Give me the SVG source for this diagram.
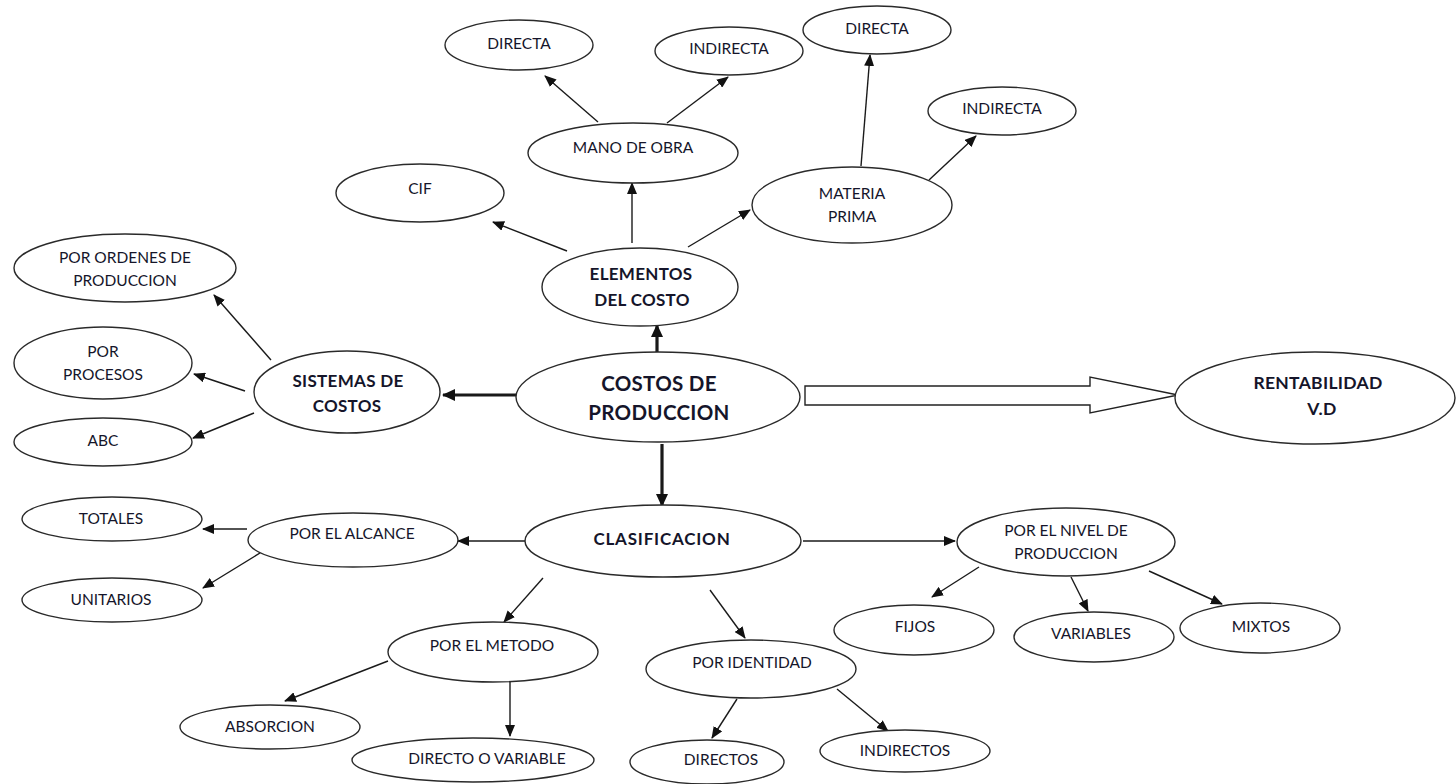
<svg xmlns="http://www.w3.org/2000/svg" width="1456" height="784" viewBox="0 0 1456 784">
  <style>
    .node ellipse { fill: #ffffff; stroke: #2a2a2a; stroke-width: 1.4; }
    text { font-family: Lato, "Open Sans", "Liberation Sans", sans-serif; font-size: 15.5px; fill: #15152a; text-anchor: middle; dominant-baseline: middle; }
    .node text { transform: translateY(1.5px); }
    .b { font-weight: bold; font-size: 17px; letter-spacing: 0.3px; }
    .big { font-size: 20.5px; font-weight: bold; letter-spacing: 0.3px; }
    .conn line { stroke: #1a1a1a; stroke-width: 1.4; marker-end: url(#arr); }
    .conn line.thick { stroke-width: 3.2; marker-end: url(#arrBig); }
  </style>
  <defs>
    <marker id="arr" markerUnits="userSpaceOnUse" markerWidth="12" markerHeight="10" refX="11" refY="5" orient="auto">
      <path d="M0,0 L12,5 L0,10 Z" fill="#111"/>
    </marker>
    <marker id="arrBig" markerUnits="userSpaceOnUse" markerWidth="13" markerHeight="12" refX="12" refY="6" orient="auto">
      <path d="M0,0 L13,6 L0,12 Z" fill="#111"/>
    </marker>
  </defs>

  <!-- connectors -->
  <g id="connectors" class="conn">
    <line x1="598" y1="122" x2="545" y2="76"/>
    <line x1="667" y1="123" x2="728" y2="77"/>
    <line x1="632" y1="243" x2="632" y2="183"/>
    <line x1="567" y1="251" x2="493" y2="222"/>
    <line x1="688" y1="247" x2="750" y2="210"/>
    <line x1="861" y1="166" x2="870" y2="55"/>
    <line x1="929" y1="180" x2="976" y2="136"/>
    <line class="thick" x1="657" y1="352" x2="657" y2="325"/>
    <line class="thick" x1="516" y1="395" x2="443" y2="395"/>
    <line class="thick" x1="662" y1="444" x2="662" y2="506"/>
    <line x1="271" y1="360" x2="214" y2="295"/>
    <line x1="245" y1="391" x2="194" y2="374"/>
    <line x1="254" y1="413" x2="193" y2="438"/>
    <line x1="526" y1="541" x2="458" y2="541"/>
    <line x1="247" y1="529" x2="203" y2="529"/>
    <line x1="260" y1="553" x2="203" y2="588"/>
    <line x1="803" y1="541" x2="955" y2="541"/>
    <line x1="979" y1="567" x2="932" y2="597"/>
    <line x1="1071" y1="577" x2="1088" y2="611"/>
    <line x1="1149" y1="571" x2="1222" y2="604"/>
    <line x1="543" y1="578" x2="504" y2="622"/>
    <line x1="710" y1="590" x2="745" y2="638"/>
    <line x1="388" y1="661" x2="285" y2="701"/>
    <line x1="510" y1="682" x2="510" y2="736"/>
    <line x1="737" y1="699" x2="712" y2="738"/>
    <line x1="837" y1="689" x2="888" y2="731"/>
    <!-- hollow block arrow towards RENTABILIDAD -->
    <path d="M805,386 L1090,386 L1090,377 L1178,395 L1090,413 L1090,405 L805,405 Z" fill="#fff" stroke="#222" stroke-width="1.4"/>
  </g>

  <g id="n-mo-directa" class="node"><ellipse cx="519" cy="45" rx="74" ry="25"/><text x="519" y="44">DIRECTA</text></g>
  <g id="n-mo-indirecta" class="node"><ellipse cx="729" cy="51" rx="74" ry="24"/><text x="729" y="49">INDIRECTA</text></g>
  <g id="n-mp-directa" class="node"><ellipse cx="877" cy="30" rx="74" ry="24"/><text x="877" y="29">DIRECTA</text></g>
  <g id="n-mp-indirecta" class="node"><ellipse cx="1002" cy="111" rx="74" ry="24"/><text x="1002" y="109">INDIRECTA</text></g>
  <g id="n-mano" class="node"><ellipse cx="633" cy="153" rx="105" ry="30"/><text x="633" y="148">MANO DE OBRA</text></g>
  <g id="n-cif" class="node"><ellipse cx="420" cy="193" rx="84" ry="29"/><text x="420" y="189">CIF</text></g>
  <g id="n-materia" class="node"><ellipse cx="852" cy="205" rx="100" ry="38"/><text x="852" y="194">MATERIA</text><text x="852" y="217">PRIMA</text></g>
  <g id="n-elementos" class="node"><ellipse cx="640" cy="287" rx="98" ry="39"/><text class="b" x="641" y="274">ELEMENTOS</text><text class="b" x="642" y="300">DEL  COSTO</text></g>
  <g id="n-ordenes" class="node"><ellipse cx="125" cy="268" rx="111" ry="34"/><text x="125" y="258">POR ORDENES DE</text><text x="125" y="281">PRODUCCION</text></g>
  <g id="n-procesos" class="node"><ellipse cx="103" cy="363" rx="89" ry="36"/><text x="103" y="352">POR</text><text x="103" y="375">PROCESOS</text></g>
  <g id="n-abc" class="node"><ellipse cx="103" cy="442" rx="89" ry="24"/><text x="103" y="441">ABC</text></g>
  <g id="n-sistemas" class="node"><ellipse cx="347" cy="392" rx="93" ry="41"/><text class="b" x="348" y="381">SISTEMAS  DE</text><text class="b" x="347" y="406">COSTOS</text></g>
  <g id="n-costos" class="node"><ellipse cx="658" cy="397" rx="142" ry="45"/><text class="big" x="659" y="384">COSTOS DE</text><text class="big" x="659" y="413">PRODUCCION</text></g>
  <g id="n-rentabilidad" class="node"><ellipse cx="1315" cy="398" rx="140" ry="46"/><text class="b" x="1318" y="383" style="font-size:17.5px">RENTABILIDAD</text><text class="b" x="1322" y="409" style="font-size:17.5px">V.D</text></g>
  <g id="n-clasificacion" class="node"><ellipse cx="663" cy="541" rx="138" ry="36"/><text class="b" x="662" y="539" style="letter-spacing:0.8px">CLASIFICACION</text></g>
  <g id="n-alcance" class="node"><ellipse cx="353" cy="540" rx="105" ry="27"/><text x="352" y="534">POR EL ALCANCE</text></g>
  <g id="n-totales" class="node"><ellipse cx="112" cy="519" rx="90" ry="22"/><text x="111" y="519">TOTALES</text></g>
  <g id="n-unitarios" class="node"><ellipse cx="112" cy="600" rx="90" ry="22"/><text x="111" y="600">UNITARIOS</text></g>
  <g id="n-nivel" class="node"><ellipse cx="1066" cy="542" rx="109" ry="34"/><text x="1066" y="531">POR EL NIVEL DE</text><text x="1066" y="554">PRODUCCION</text></g>
  <g id="n-fijos" class="node"><ellipse cx="914" cy="630" rx="80" ry="25"/><text x="915" y="627">FIJOS</text></g>
  <g id="n-variables" class="node"><ellipse cx="1094" cy="637" rx="80" ry="25"/><text x="1091" y="634">VARIABLES</text></g>
  <g id="n-mixtos" class="node"><ellipse cx="1260" cy="628" rx="80" ry="25"/><text x="1261" y="627">MIXTOS</text></g>
  <g id="n-metodo" class="node"><ellipse cx="493" cy="652" rx="105" ry="30"/><text x="492" y="646">POR EL METODO</text></g>
  <g id="n-identidad" class="node"><ellipse cx="751" cy="669" rx="105" ry="29"/><text x="752" y="663">POR IDENTIDAD</text></g>
  <g id="n-absorcion" class="node"><ellipse cx="270" cy="727" rx="90" ry="22"/><text x="270" y="727">ABSORCION</text></g>
  <g id="n-directo-variable" class="node"><ellipse cx="473" cy="760" rx="121" ry="22"/><text x="487" y="759">DIRECTO O VARIABLE</text></g>
  <g id="n-directos" class="node"><ellipse cx="707" cy="762" rx="77" ry="22"/><text x="721" y="760">DIRECTOS</text></g>
  <g id="n-indirectos" class="node"><ellipse cx="905" cy="751" rx="85" ry="21"/><text x="905" y="751">INDIRECTOS</text></g>
</svg>
